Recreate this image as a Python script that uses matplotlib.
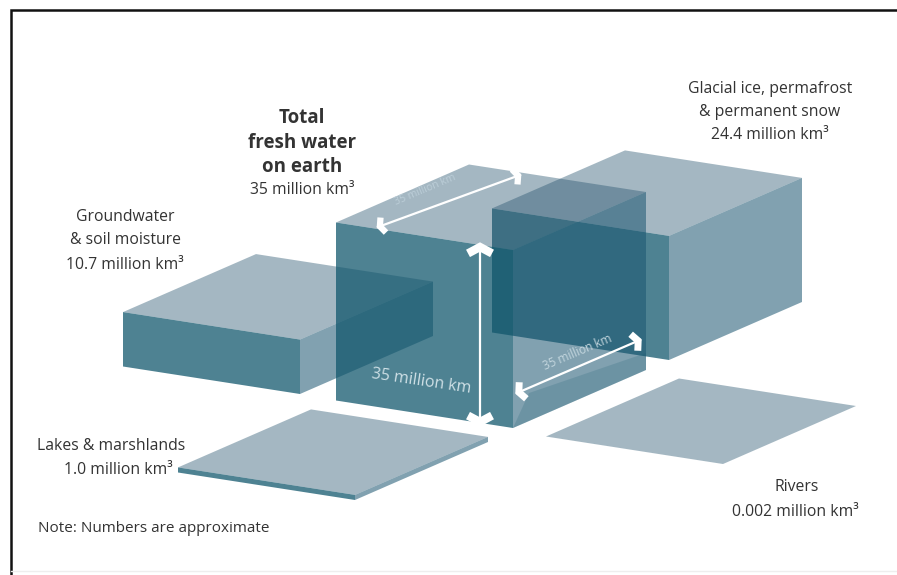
import matplotlib
matplotlib.use("Agg")
from matplotlib import pyplot as plt
from matplotlib.patches import Polygon
import numpy as np

plt.rcParams["font.family"] = ["Open Sans", "DejaVu Sans"]

# volumes in million km3
stores = ["Glacial ice, permafrost\n& permanent snow", "Groundwater\n& soil moisture", "Total", "Lakes & marshlands", "Rivers"]
volumes = [24.4, 10.7, 35, 1.0, 0.002]
side_km = 35

# front bottom corner of each block, in picture pixels
corners = [(669, 360), (300, 394), (513, 428), (355, 500), (723, 464)]

# iso directions and scale, also pixels
to_left = np.array([-177, -27.5])
to_right = np.array([133, -58])
full_height = 178

ink_top = "#28556F"
ink_left = "#10566C"
ink_right = "#1A5570"
text_col = "#333333"
size_big = 11.3

fig = plt.figure(figsize=(8.97, 5.75), dpi=100)
ax = fig.add_axes([0, 0, 1, 1])
ax.set_xlim(0, 897)
ax.set_ylim(575, 0)
ax.axis("off")


def draw_box(corner, volume):
    f = np.array(corner, dtype=float)
    up = np.array([0, -volume / side_km * full_height])
    faces = [
        ([f + up, f + up + to_left, f + up + to_left + to_right, f + up + to_right], ink_top, 0.42),
        ([f, f + to_left, f + to_left + up, f + up], ink_left, 0.74),
        ([f, f + to_right, f + to_right + up, f + up], ink_right, 0.55),
    ]
    for pts, col, a in faces:
        ax.add_patch(Polygon(pts, closed=True, fc=col, ec="none", alpha=a))


def draw_arrow(p0, p1, size=13, lw=1.6, head_lw=6):
    p0 = np.array(p0, dtype=float)
    p1 = np.array(p1, dtype=float)
    ax.plot([p0[0], p1[0]], [p0[1], p1[1]], color="white", lw=lw, zorder=5)
    d = (p1 - p0) / np.linalg.norm(p1 - p0)
    n = np.array([-d[1], d[0]])
    for tip, way in ((p1, -d), (p0, d)):
        xs = [tip[0] + way[0] * size * 0.7 + n[0] * size, tip[0] + way[0] * 2, tip[0] + way[0] * size * 0.7 - n[0] * size]
        ys = [tip[1] + way[1] * size * 0.7 + n[1] * size, tip[1] + way[1] * 2, tip[1] + way[1] * size * 0.7 - n[1] * size]
        ax.plot(xs, ys, color="white", lw=head_lw, zorder=5, solid_capstyle="butt", solid_joinstyle="miter")


for corner, vol in zip(corners, volumes):
    draw_box(corner, vol)

# darker strip low on the right side of the big cube
f = np.array(corners[2], dtype=float)
ax.add_patch(Polygon([f, f + to_right, f + to_right + [0, -17], f + to_right * 0.12 + [0, -28]],
                     closed=True, fc=ink_left, ec="none", alpha=0.18))

# arrows across the big cube
draw_arrow((480, 245), (480, 424), size=12)
draw_arrow((378, 227), (520, 175), size=8, head_lw=4.5)
draw_arrow((517, 393), (640, 340), size=9, head_lw=5)

# labels on the cube
ax.text(421, 381, f"{side_km} million km", color="#CFE0E6", fontsize=11.5, rotation=-8.5,
        ha="center", va="center", zorder=6)
ax.text(578, 352, f"{side_km} million km", color="#C3D6DE", fontsize=8.5, rotation=23,
        ha="center", va="center", zorder=6)
ax.text(425, 190, f"{side_km} million km", color="#BCCED8", fontsize=7.5, rotation=23,
        ha="center", va="center", zorder=6)

# outside labels
sup = " million km\u00b3"
ax.text(302, 118, "Total", fontsize=13.5, fontweight="bold", color=text_col, ha="center", va="center")
ax.text(302, 143, "fresh water", fontsize=13.5, fontweight="bold", color=text_col, ha="center", va="center")
ax.text(302, 167, "on earth", fontsize=13.5, fontweight="bold", color=text_col, ha="center", va="center")
ax.text(302, 190, f"{volumes[2]}{sup}", fontsize=size_big, color=text_col, ha="center", va="center")

ax.text(770, 89, "Glacial ice, permafrost", fontsize=size_big, color=text_col, ha="center", va="center")
ax.text(770, 112, "& permanent snow", fontsize=size_big, color=text_col, ha="center", va="center")
ax.text(770, 135, f"{volumes[0]}{sup}", fontsize=size_big, color=text_col, ha="center", va="center")

ax.text(125, 217, "Groundwater", fontsize=size_big, color=text_col, ha="center", va="center")
ax.text(125, 240, "& soil moisture", fontsize=size_big, color=text_col, ha="center", va="center")
ax.text(125, 265, f"{volumes[1]}{sup}", fontsize=size_big, color=text_col, ha="center", va="center")

ax.text(111, 446, stores[3], fontsize=size_big, color=text_col, ha="center", va="center")
ax.text(118, 470, f"{volumes[3]:.1f}{sup}", fontsize=size_big, color=text_col, ha="center", va="center")

ax.text(797, 487, stores[4], fontsize=size_big, color=text_col, ha="center", va="center")
ax.text(795, 512, f"{volumes[4]}{sup}", fontsize=size_big, color=text_col, ha="center", va="center")

ax.text(38, 528, "Note: Numbers are approximate", fontsize=11, color=text_col, ha="left", va="center")

# picture frame
ax.plot([10.5, 10.5, 897], [575, 10, 10], color="#111111", lw=1.8, solid_joinstyle="miter")
ax.plot([11, 897], [571, 571], color="#EEEEEE", lw=1)

fig.savefig("out.png", dpi=100)
